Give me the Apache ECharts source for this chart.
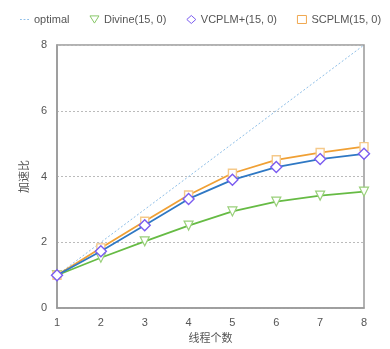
<!DOCTYPE html>
<html>
<head>
<meta charset="utf-8">
<script src="https://cdn.jsdelivr.net/npm/echarts@6/dist/echarts.min.js"></script>
<style>
html,body{margin:0;padding:0;background:#fff;}
#chart{width:390px;height:349px;}
</style>
</head>
<body>
<div id="chart"></div>
<script>
var threads = [1, 2, 3, 4, 5, 6, 7, 8];
var optimal = [1, 2, 3, 4, 5, 6, 7, 8];
var divine = [1.0, 1.53, 2.03, 2.51, 2.94, 3.24, 3.42, 3.54];
var vcplm = [1.0, 1.73, 2.52, 3.32, 3.90, 4.29, 4.53, 4.69];
var scplm = [1.0, 1.83, 2.64, 3.44, 4.10, 4.51, 4.73, 4.91];
var names = ['optimal', 'Divine(15, 0)', 'VCPLM+(15, 0)', 'SCPLM(15, 0)'];

function pairs(ys) {
    var out = [];
    for (var i = 0; i < threads.length; i++) {
        out.push([threads[i], ys[i]]);
    }
    return out;
}

var myChart = echarts.init(document.getElementById('chart'));
var font = 'Helvetica, "Liberation Sans", Arial, "Noto Sans CJK SC", sans-serif';

var option = {
    animation: false,
    backgroundColor: '#fff',
    textStyle: { fontFamily: font },
    legend: {
        top: 9,
        left: 15,
        itemGap: 20,
        itemWidth: 9,
        itemHeight: 8,
        textStyle: { color: '#555', fontSize: 11, fontFamily: font },
        data: [
            { name: names[0], icon: 'path://M0,4h2v1h-2zM4,4h2v1h-2zM8,4h2v1h-2z', itemStyle: { color: '#8fbfe8', borderWidth: 0 } },
            { name: names[1], icon: 'path://M0,0L10,0L5,8Z', itemStyle: { color: '#fff', borderColor: '#88c868', borderWidth: 1 } },
            { name: names[2], icon: 'diamond', itemStyle: { color: '#fff', borderColor: '#7b5cf0', borderWidth: 1 } },
            { name: names[3], icon: 'rect', itemStyle: { color: '#fff', borderColor: '#f0a850', borderWidth: 1 } }
        ]
    },
    grid: {
        left: 57, right: 26, top: 45, bottom: 39,
        show: true, borderColor: '#999', borderWidth: 1.5
    },
    xAxis: {
        type: 'value', min: 1, max: 8, interval: 1,
        name: '线程个数', nameLocation: 'middle', nameGap: 22,
        nameTextStyle: { color: '#555', fontSize: 11 },
        axisLine: { lineStyle: { color: '#999', width: 1.5 } },
        axisTick: { show: false },
        axisLabel: { color: '#555', fontSize: 11, margin: 9 },
        splitLine: { show: false }
    },
    yAxis: {
        type: 'value', min: 0, max: 8, interval: 2,
        name: '加速比', nameLocation: 'middle', nameGap: 27,
        nameTextStyle: { color: '#555', fontSize: 11 },
        axisLine: { show: true, lineStyle: { color: '#999', width: 1.5 } },
        axisTick: { show: false },
        axisLabel: { color: '#555', fontSize: 11, margin: 10 },
        splitLine: { lineStyle: { color: '#bbb', type: [2, 2], width: 1 } }
    },
    series: [
        {
            name: names[0], type: 'line', data: pairs(optimal),
            showSymbol: false, symbol: 'none', z: 1,
            lineStyle: { color: '#8fbfe8', width: 1, type: [2, 2] },
            itemStyle: { color: '#8fbfe8' }
        },
        {
            name: names[1], type: 'line', data: pairs(divine),
            symbol: 'triangle', symbolRotate: 180, symbolSize: 9, z: 2,
            lineStyle: { color: '#66bb44', width: 1.8 },
            itemStyle: { color: '#fff', borderColor: '#99d07a', borderWidth: 1.2 }
        },
        {
            name: names[2], type: 'line', data: pairs(vcplm),
            symbol: 'diamond', symbolSize: 11, z: 4,
            lineStyle: { color: '#2f78c4', width: 1.8 },
            itemStyle: { color: '#fff', borderColor: '#7b5cf0', borderWidth: 1.4 }
        },
        {
            name: names[3], type: 'line', data: pairs(scplm),
            symbol: 'rect', symbolSize: 8, z: 3,
            lineStyle: { color: '#f0a034', width: 1.8 },
            itemStyle: { color: '#fff', borderColor: '#f5c98a', borderWidth: 1.4 }
        }
    ]
};
myChart.setOption(option);
</script>
</body>
</html>
